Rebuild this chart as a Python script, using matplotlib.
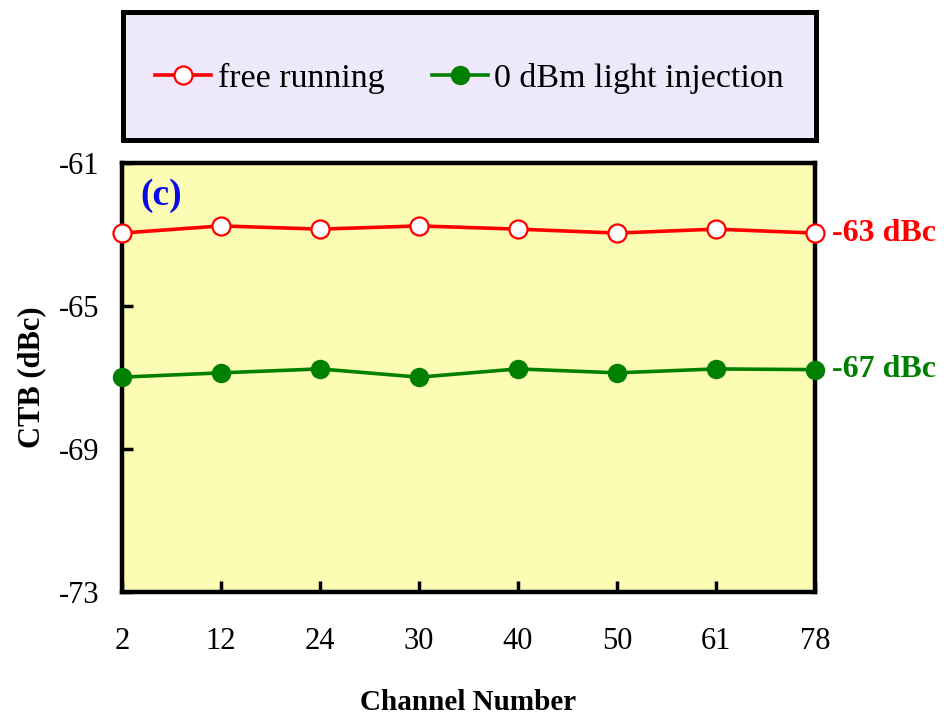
import matplotlib
matplotlib.use("Agg")
import matplotlib.pyplot as plt
from matplotlib.lines import Line2D

# channel numbers (categorical, equally spaced on the axis)
channels = ["2", "12", "24", "30", "40", "50", "61", "78"]
free_running = [-62.96, -62.76, -62.85, -62.76, -62.85, -62.96, -62.85, -62.96]
injection_0dbm = [-66.99, -66.87, -66.76, -66.99, -66.76, -66.87, -66.76, -66.78]
y_ticks = [-61, -65, -69, -73]

plt.rcParams["font.family"] = ["Liberation Serif", "DejaVu Serif"]

fig = plt.figure(figsize=(9.44, 7.17), dpi=100)
W, H = 944, 717

ax = fig.add_axes([122 / W, 1 - 592 / H, (815 - 122) / W, (592 - 163) / H])
ax.set_facecolor("#fdfcb4")
x = list(range(len(channels)))

ax.plot(x, free_running, color="red", lw=2.6, marker="o", ms=13,
        mfc="white", mec="red", mew=1.6, clip_on=False, zorder=3)
ax.plot(x, injection_0dbm, color="green", lw=2.6, marker="o", ms=13,
        mfc="green", mec="green", clip_on=False, zorder=3)

ax.set_xlim(0, len(channels) - 1)
ax.set_ylim(-73, -61)
ax.set_xticks(x)
ax.set_xticklabels(channels)
ax.set_yticks(y_ticks)
ax.set_yticklabels([str(v) for v in y_ticks])
ax.tick_params(axis="both", direction="in", length=8, width=2.5, labelsize=22)
ax.tick_params(axis="x", pad=25)
ax.tick_params(axis="y", pad=16)
for s in ax.spines.values():
    s.set_linewidth(3.2)

ax.set_xlabel("Channel Number", fontsize=21, fontweight="bold", labelpad=24)
ax.set_ylabel("CTB (dBc)", fontsize=22, fontweight="bold", labelpad=9)

ax.text(0.027, 0.925, "(c)", transform=ax.transAxes, color="#0a0ae6",
        fontsize=27, fontweight="bold", va="center", ha="left")
ax.text(1.025, free_running[-1], "-63 dBc", transform=ax.get_yaxis_transform(),
        color="red", fontsize=23, fontweight="bold", va="center", ha="left")
ax.text(1.025, injection_0dbm[-1], "-67 dBc", transform=ax.get_yaxis_transform(),
        color="green", fontsize=23, fontweight="bold", va="center", ha="left")

# legend box above the plot
lax = fig.add_axes([123 / W, 1 - 140 / H, (816 - 123) / W, (140 - 12) / H])
lax.set_facecolor("#eee9fa")
lax.set_xticks([])
lax.set_yticks([])
for s in lax.spines.values():
    s.set_linewidth(3.6)
handles = [
    Line2D([], [], color="red", lw=2.6, marker="o", ms=13, mfc="white", mec="red", mew=1.6),
    Line2D([], [], color="green", lw=2.6, marker="o", ms=13, mfc="green", mec="green"),
]
lax.legend(handles, ["free running", "0 dBm light injection"], loc="center",
           ncol=2, frameon=False, fontsize=24.5, handlelength=1.65,
           handletextpad=0.18, columnspacing=1.4,
           bbox_to_anchor=(0.5, 0.48))

fig.savefig("out.png", dpi=100)
